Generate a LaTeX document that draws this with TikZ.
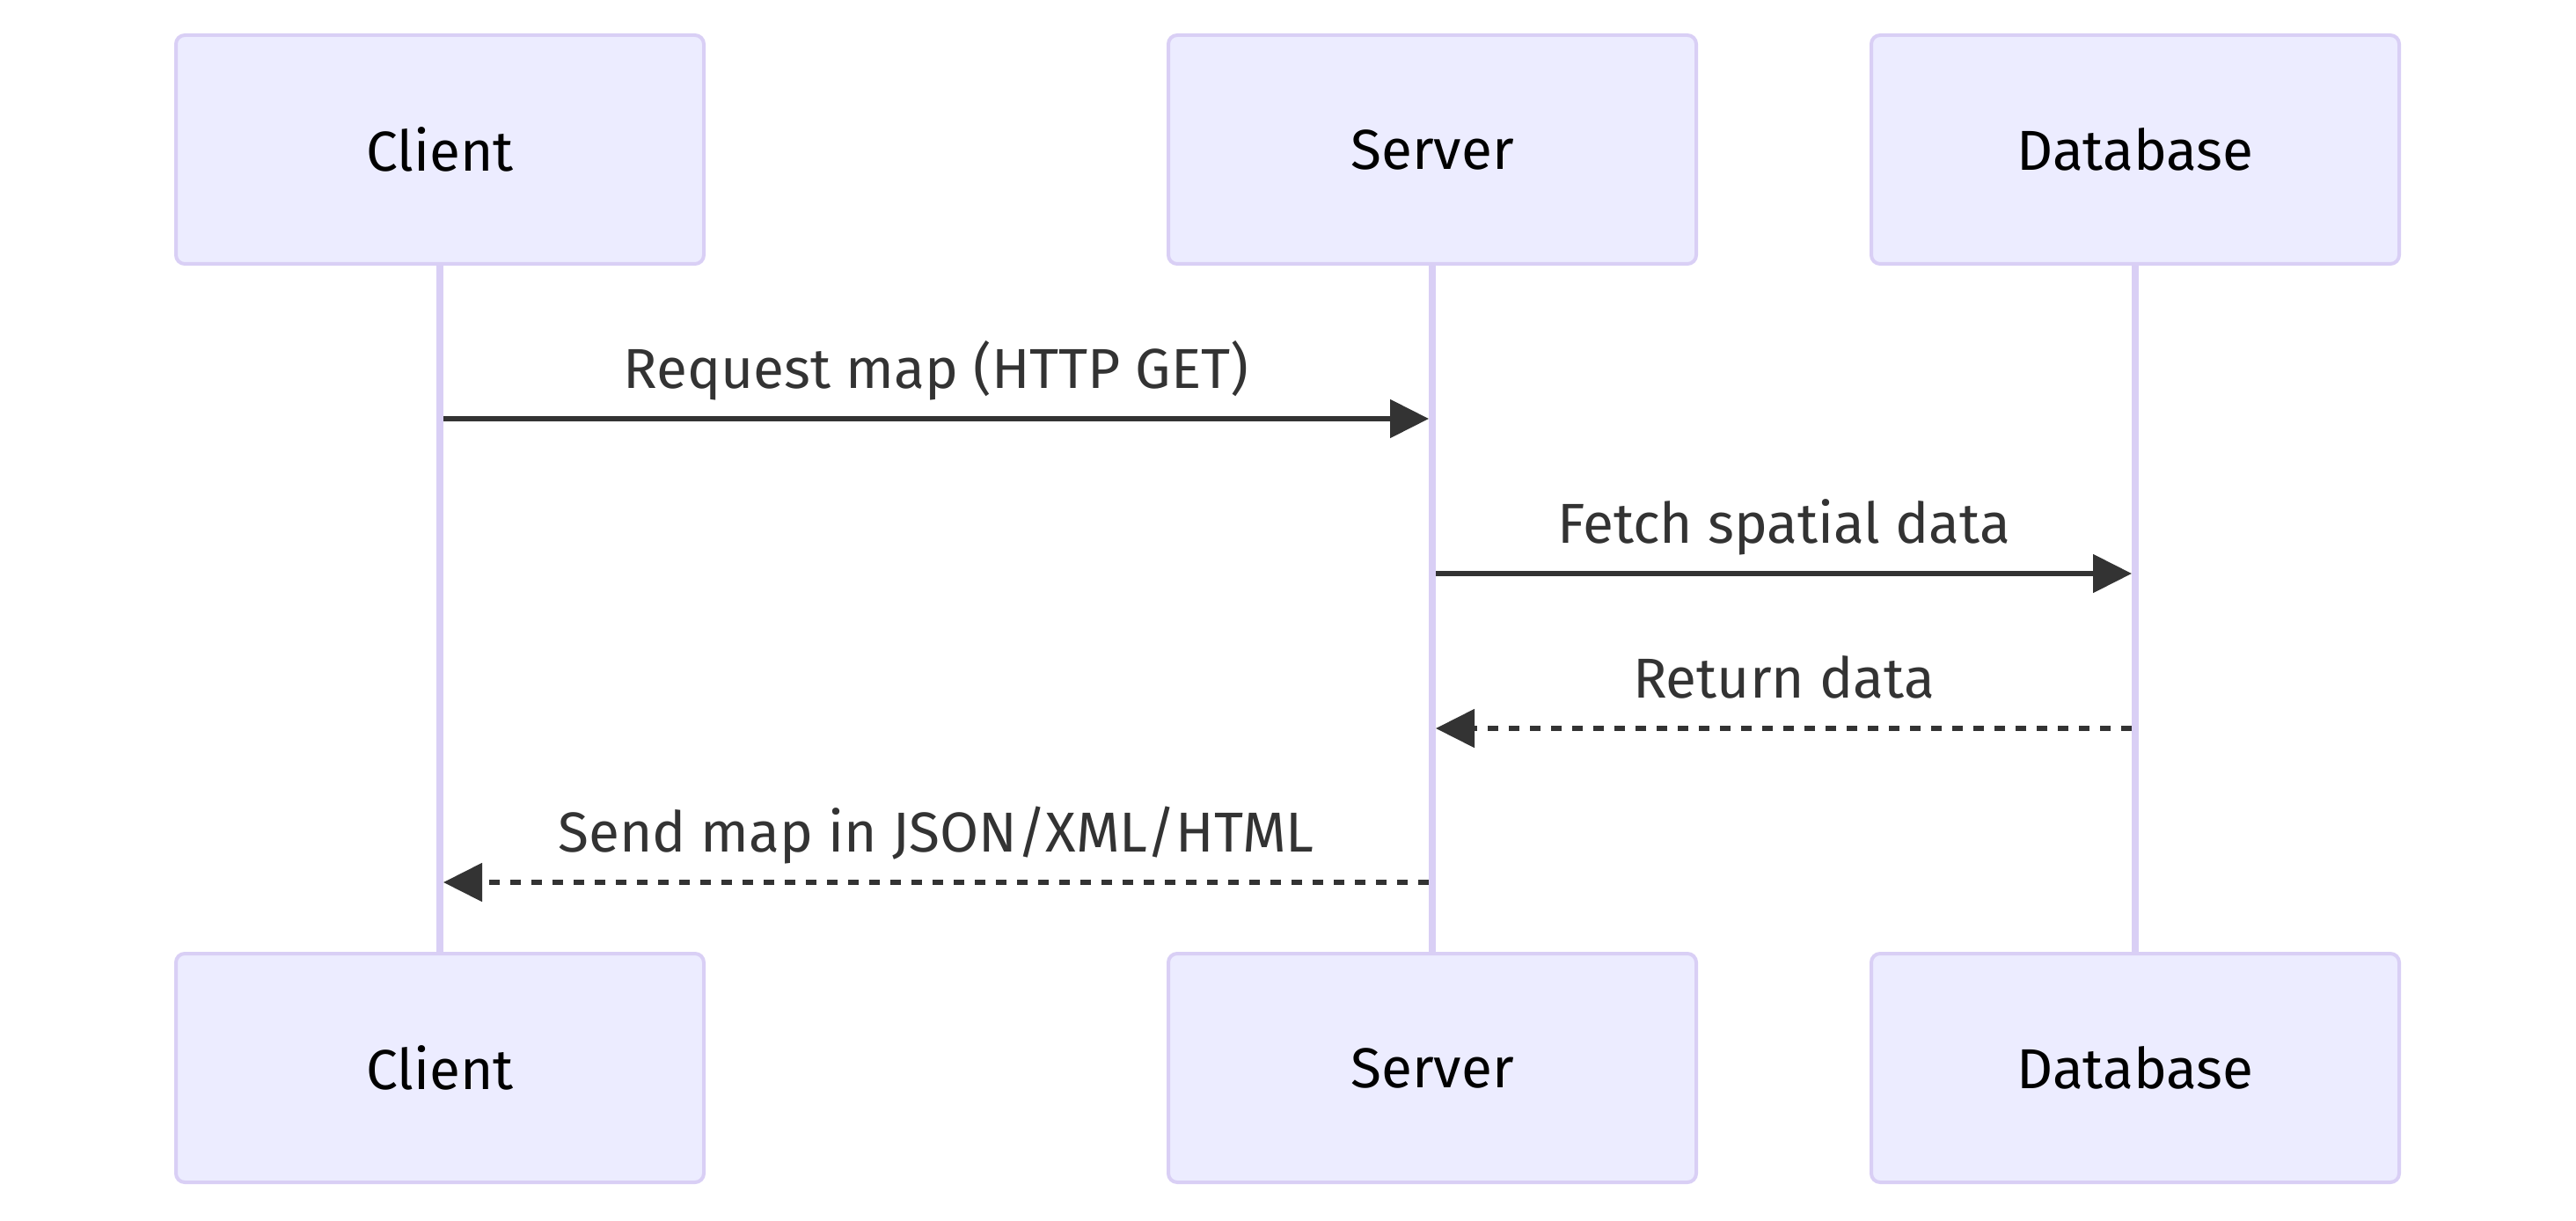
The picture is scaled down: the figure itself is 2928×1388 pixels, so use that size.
\documentclass[tikz,border=0pt]{standalone}
\usepackage{fontspec}
\setmainfont{Fira Sans}
\usetikzlibrary{arrows.meta}
\definecolor{actorfill}{HTML}{ECECFF}
\definecolor{actorline}{HTML}{D9CFF5}
\definecolor{msgcolor}{HTML}{333333}
\begin{document}
\begin{tikzpicture}[x=1pt,y=-1pt]
\pgfmathsetmacro\boxw{600};
\pgfmathsetmacro\boxh{260};
\pgfmathsetmacro\topy{170};
\pgfmathsetmacro\boty{1214};
\tikzset{actor/.style = {draw = actorline, fill = actorfill, line width = 4pt, rounded corners = 10pt, minimum width = \boxw pt, minimum height = \boxh pt, inner sep = 0pt, font = \fontsize{64}{76}\selectfont},
msg/.style = {draw = msgcolor, line width = 5.3pt, shorten > = 4pt, shorten < = 4pt, -{Triangle[length = 44pt, width = 43pt]}},
reply/.style = {msg, dash pattern = on 12pt off 12pt},
msglabel/.style = {anchor = base, yshift = 35pt, text = msgcolor, inner sep = 0pt, font = \fontsize{64}{76}\selectfont}}
\useasboundingbox (0,0) rectangle (2928,1388);
\foreach \name/\x/\txt in {client/500/Client, server/1628/Server, db/2427/Database} {
\node[actor] (\name-top) at (\x,\topy) {\txt};
\node[actor] (\name-bot) at (\x,\boty) {\txt};
\draw [draw = actorline, line width = 8pt] (\name-top) -- (\name-bot);
\foreach \n/\y in {1/476, 2/652, 3/828, 4/1003} \coordinate (\name-\n) at (\x,\y);
}
\draw [msg] (client-1) -- node[msglabel] (m1) {Request map (HTTP GET)} (server-1);
\draw [msg] (server-2) -- node[msglabel] (m2) {Fetch spatial data} (db-2);
\draw [reply] (db-3) -- node[msglabel] (m3) {Return data} (server-3);
\draw [reply] (server-4) -- node[msglabel] (m4) {Send map in JSON/XML/HTML} (client-4);
\end{tikzpicture}
\end{document}
